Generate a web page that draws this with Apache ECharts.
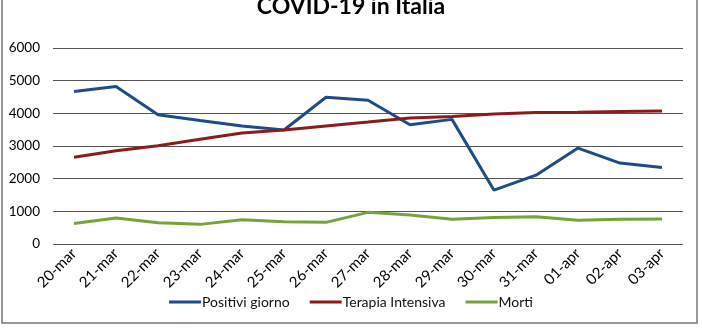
<!DOCTYPE html>
<html><head><meta charset="utf-8">
<script src="https://cdn.jsdelivr.net/npm/echarts@6/dist/echarts.min.js"></script>
<style>html,body{margin:0;padding:0;background:#fff}#c{width:702px;height:336px}</style>
</head><body><div id="c"></div>
<script>
const categories = ['20-mar','21-mar','22-mar','23-mar','24-mar','25-mar','26-mar','27-mar','28-mar','29-mar','30-mar','31-mar','01-apr','02-apr','03-apr'];
const positivi = [4670,4821,3957,3780,3612,3491,4492,4401,3651,3815,1648,2107,2937,2477,2339];
const terapia = [2655,2857,3009,3204,3396,3489,3612,3732,3856,3906,3981,4023,4035,4053,4068];
const morti = [627,793,651,601,743,683,662,969,889,756,812,837,727,760,766];
const seriesNames = ['Positivi giorno','Terapia Intensiva','Morti'];
const colors = ['#1F4C86','#8A1C1C','#77A33A'];

const chart = echarts.init(document.getElementById('c'), null, {renderer:'canvas'});
const font = 'Lato, "Open Sans", sans-serif';
chart.setOption({
  animation:false,
  color: colors,
  graphic:[{type:'rect',shape:{x:2,y:-5,width:695,height:328},style:{fill:null,stroke:'#777',lineWidth:1.5},silent:true}],
  title:{text:'COVID-19 in Italia',left:'center',top:-10,textStyle:{fontFamily:font,fontWeight:'bold',fontSize:23,color:'#000'}},
  legend:{bottom:22,left:'center',itemWidth:32,itemHeight:3,itemGap:20,icon:'rect',
    textStyle:{fontFamily:font,fontSize:14,color:'#111',padding:[0,0,0,-4]},
    data:seriesNames},
  grid:{left:53,right:19,top:48,bottom:92},
  xAxis:{type:'category',data:categories,boundaryGap:true,
    axisLine:{show:false},axisTick:{show:false},
    axisLabel:{rotate:45,interval:0,fontFamily:font,fontSize:15,color:'#000',margin:7}},
  yAxis:{type:'value',min:0,max:6000,interval:1000,
    axisLine:{show:false},axisTick:{show:false},
    axisLabel:{fontFamily:font,fontSize:13.5,color:'#000',margin:13,formatter:v=>String(v)},
    splitLine:{lineStyle:{color:'#555',width:1}}},
  series:[
    {name:seriesNames[0],type:'line',data:positivi,symbol:'none',lineStyle:{width:3,color:colors[0]}},
    {name:seriesNames[1],type:'line',data:terapia,symbol:'none',lineStyle:{width:3,color:colors[1]}},
    {name:seriesNames[2],type:'line',data:morti,symbol:'none',lineStyle:{width:3,color:colors[2]}}
  ]
});
</script></body></html>
